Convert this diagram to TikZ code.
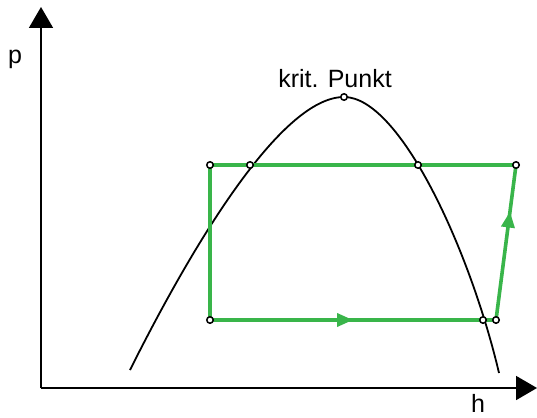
\documentclass[tikz,border=0pt]{standalone}
\usepackage{fontspec}
\setmainfont{Liberation Sans}
\usetikzlibrary{arrows.meta, backgrounds, decorations.markings}
\definecolor{cycgreen}{RGB}{57,181,74}

\begin{document}
\begin{tikzpicture}[
  x=1pt, y=-1pt,
  pt/.style={circle, draw, fill=white, line width=1.5pt, inner sep=0pt, minimum size=6.5pt},
  cyc/.style={draw=cycgreen, line width=3.6pt},
  ax/.style={line width=1.8pt, -{Triangle[length=21pt, width=24pt]}},
  lbl/.style={font=\fontsize{25}{30}\selectfont, inner sep=0pt},
  mid/.style={postaction={decorate, decoration={markings, mark=at position #1 with {\arrow{Triangle[length=16pt, width=13pt]}}}}}
]
\useasboundingbox (0,0) rectangle (537,417);

% axes
\coordinate (o) at (41,388);
\coordinate (ytip) at (41,7);
\coordinate (xtip) at (537,388);
\draw[ax] (o) -- (ytip);
\draw[ax] (o) -- (xtip);
\node[lbl, anchor=base] (plbl) at (15,64) {p};
\node[lbl, anchor=base] (hlbl) at (478,412) {h};

% state points
\node[pt] (kp) at (344,97) {};
\node[lbl, anchor=base] (kplbl) at (335,88) {krit. Punkt};
\node[pt] (a) at (210,165) {};
\node[pt] (b) at (250,165) {};
\node[pt] (c) at (418,165) {};
\node[pt] (d) at (516,165) {};
\node[pt] (e) at (210,320) {};
\node[pt] (f) at (483,320) {};
\node[pt] (g) at (496,320) {};
\coordinate (cl) at (130,370);
\coordinate (cr) at (499,373);

\begin{scope}[on background layer]
% boundary curve
\draw[line width=1.8pt] (cl) .. controls (190,250) and (280,97) .. (kp.center)
  .. controls (400,97) and (470,250) .. (cr);
% cycle
\draw[cyc] (e.center) -- (a.center) -- (d.center);
\draw[cyc, mid=0.5, cycgreen] (e.center) -- (g.center);
\draw[cyc, mid=0.7, cycgreen] (g.center) -- (d.center);
\end{scope}
\end{tikzpicture}
\end{document}
